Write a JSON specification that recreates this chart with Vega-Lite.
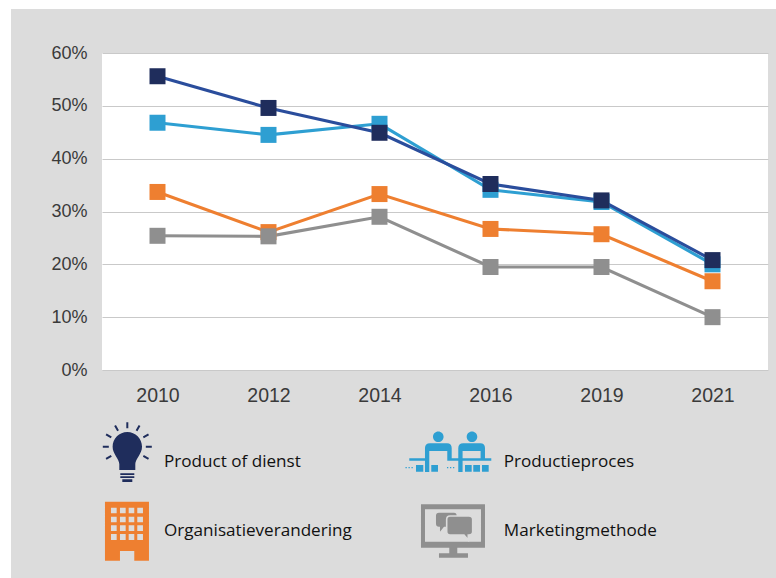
{
"$schema":"https://vega.github.io/schema/vega-lite/v6.json",
"width":666,"height":317,
"autosize":{"type":"none"},
"padding":{"left":102,"top":53,"right":8,"bottom":208},
"background":"#dcdcdc",
"config":{"view":{"fill":"#ffffff","stroke":null}},
"datasets":{
"series":[
{"year":"2010","serie":"Organisatieverandering","pct":33.7},{"year":"2012","serie":"Organisatieverandering","pct":26.1},{"year":"2014","serie":"Organisatieverandering","pct":33.3},{"year":"2016","serie":"Organisatieverandering","pct":26.7},{"year":"2019","serie":"Organisatieverandering","pct":25.7},{"year":"2021","serie":"Organisatieverandering","pct":16.8},
{"year":"2010","serie":"Marketingmethode","pct":25.4},{"year":"2012","serie":"Marketingmethode","pct":25.3},{"year":"2014","serie":"Marketingmethode","pct":29.0},{"year":"2016","serie":"Marketingmethode","pct":19.5},{"year":"2019","serie":"Marketingmethode","pct":19.5},{"year":"2021","serie":"Marketingmethode","pct":10.0},
{"year":"2010","serie":"Productieproces","pct":46.8},{"year":"2012","serie":"Productieproces","pct":44.5},{"year":"2014","serie":"Productieproces","pct":46.6},{"year":"2016","serie":"Productieproces","pct":34.1},{"year":"2019","serie":"Productieproces","pct":31.8},{"year":"2021","serie":"Productieproces","pct":20.0},
{"year":"2010","serie":"Product of dienst","pct":55.6},{"year":"2012","serie":"Product of dienst","pct":49.6},{"year":"2014","serie":"Product of dienst","pct":44.9},{"year":"2016","serie":"Product of dienst","pct":35.2},{"year":"2019","serie":"Product of dienst","pct":32.1},{"year":"2021","serie":"Product of dienst","pct":20.8}
],
"legend":[
{"serie":"Product of dienst","tx":0.559,"ty":-17.35,"ix":0.228,"iy":-15.33},
{"serie":"Productieproces","tx":3.62,"ty":-17.35,"ix":3.135,"iy":-15.52},
{"serie":"Organisatieverandering","tx":0.559,"ty":-30.4,"ix":0.225,"iy":-30.47},
{"serie":"Marketingmethode","tx":3.62,"ty":-30.4,"ix":3.162,"iy":-30.47}
],
"strips":[
{"a":-1,"b":6.1,"c":68.33,"d":70.2},
{"a":-1,"b":-0.82,"c":-40,"d":70.2}
]
},
"layer":[
{"data":{"name":"strips"},
 "mark":{"type":"rect","fill":"#ffffff","stroke":null},
 "encoding":{
  "x":{"field":"a","type":"quantitative","scale":{"domain":[0,6],"nice":false,"zero":false},"axis":null},
  "x2":{"field":"b"},
  "y":{"field":"c","type":"quantitative","scale":{"domain":[0,60],"nice":false},"axis":{"values":[0,10,20,30,40,50,60],"labelExpr":"datum.value + '%'","title":null,"domain":false,"ticks":false,"labelFont":"Liberation Sans","labelFontSize":18,"labelColor":"#3a3a3a","labelPadding":15,"gridColor":"#c9c9c9","gridWidth":1.2,"grid":true}},
  "y2":{"field":"d"}
 }},
{"data":{"name":"series"},
 "mark":{"type":"line","strokeWidth":3.1},
 "encoding":{
  "x":{"field":"year","type":"ordinal","scale":{"type":"point","padding":0.5,"domain":["2010","2012","2014","2016","2019","2021"]},"axis":{"title":null,"domain":false,"ticks":false,"labelAngle":0,"labelFont":"Liberation Sans","labelFontSize":19.5,"labelColor":"#3a3a3a","labelPadding":16}},
  "y":{"field":"pct","type":"quantitative"},
  "detail":{"field":"serie"},
  "color":{"field":"serie","type":"nominal","legend":null,"scale":{"domain":["Marketingmethode","Organisatieverandering","Productieproces","Product of dienst"],"range":["#8f8f8f","#ee7f30","#2e9fd2","#2a4d9c"]}}
 }},
{"data":{"name":"series"},
 "mark":{"type":"point","shape":"square","filled":true,"size":256,"opacity":1},
 "encoding":{
  "x":{"field":"year","type":"ordinal","scale":{"type":"point","padding":0.5,"domain":["2010","2012","2014","2016","2019","2021"]},"axis":null},
  "y":{"field":"pct","type":"quantitative"},
  "fill":{"field":"serie","type":"nominal","legend":null,"scale":{"domain":["Marketingmethode","Organisatieverandering","Productieproces","Product of dienst"],"range":["#8f8f8f","#ee7f30","#2e9fd2","#1f2d5c"]}}
 }},
{"data":{"name":"legend"},
 "mark":{"type":"text","align":"left","baseline":"middle","font":"Open Sans","fontSize":17.1,"fill":"#111111"},
 "encoding":{
  "x":{"field":"tx","type":"quantitative","scale":{"domain":[0,6],"nice":false,"zero":false},"axis":null},
  "y":{"field":"ty","type":"quantitative"},
  "text":{"field":"serie"}
 }},
{"data":{"name":"legend"},
 "mark":{"type":"point","filled":true,"size":4,"opacity":1,"strokeWidth":0},
 "encoding":{
  "x":{"field":"ix","type":"quantitative","scale":{"domain":[0,6],"nice":false,"zero":false},"axis":null},
  "y":{"field":"iy","type":"quantitative"},
  "fill":{"field":"serie","type":"nominal","legend":null,"scale":{"domain":["Marketingmethode","Organisatieverandering","Productieproces","Product of dienst"],"range":["#8f8f8f","#ee7f30","#2e9fd2","#1f2d5c"]}},
  "shape":{"field":"serie","type":"nominal","legend":null,"scale":{"domain":["Product of dienst","Productieproces","Organisatieverandering","Marketingmethode"],"range":[
"M-8 19L-8 13C-8 8 -14.7 3 -14.7 -4.3C-14.7 -12.4 -8.1 -19 0 -19C8.1 -19 14.7 -12.4 14.7 -4.3C14.7 3 8 8 8 13L8 19ZM-7 22.3L7 22.3L7 24L-7 24ZM-7 25.3L7 25.3L7 27L-7 27ZM-5 28.3L5 28.3L5 31L-5 31ZM-1 -22.8L1 -22.8L1 -28.8L-1 -28.8ZM10.12 -19.82L8.38 -20.82L11.38 -26.02L13.12 -25.02ZM16.52 -12.68L15.52 -14.42L20.72 -17.42L21.72 -15.68ZM18.5 -5.3L24.5 -5.3L24.5 -3.3L18.5 -3.3ZM15.52 5.82L16.52 4.08L21.72 7.08L20.72 8.82ZM-10.12 -19.82L-8.38 -20.82L-11.38 -26.02L-13.12 -25.02ZM-16.52 -12.68L-15.52 -14.42L-20.72 -17.42L-21.72 -15.68ZM-18.5 -5.3L-24.5 -5.3L-24.5 -3.3L-18.5 -3.3ZM-15.52 5.82L-16.52 4.08L-21.72 7.08L-20.72 8.82Z",
"M-17 -15.3A5.3 5.3 0 1 1 -6.4 -15.3A5.3 5.3 0 1 1 -17 -15.3ZM16.7 -15.3A5.3 5.3 0 1 1 27.3 -15.3A5.3 5.3 0 1 1 16.7 -15.3ZM-25 20L-25 -4Q-25 -8.7 -20 -8.7L-3 -8.7Q1.7 -8.7 1.7 -4L1.7 6.3L-2.7 6.3L-2.7 -1L-20.7 -1L-20.7 20ZM8.3 20L8.3 -4Q8.3 -8.7 13.3 -8.7L30.3 -8.7Q35 -8.7 35 -4L35 6.3L30.6 6.3L30.6 -1L12.6 -1L12.6 20ZM-40.7 6.3L-20.7 6.3L-20.7 8.7L-40.7 8.7ZM-2.7 6.3L8.3 6.3L8.3 8.7L-2.7 8.7ZM12.6 6.3L41.3 6.3L41.3 8.7L12.6 8.7ZM-34 13L-26.7 13L-26.7 19.7L-34 19.7ZM-18.7 13L-12 13L-12 19.7L-18.7 19.7ZM15 13L21.7 13L21.7 19.7L15 19.7ZM23.3 13L30 13L30 19.7L23.3 19.7ZM32 13L38.7 13L38.7 19.7L32 19.7ZM-44.5 15L-43.2 15L-43.2 16.3L-44.5 16.3ZM-41.5 15L-40.2 15L-40.2 16.3L-41.5 16.3ZM-38.5 15L-37.2 15L-37.2 16.3L-38.5 16.3ZM-3 15L-1.7 15L-1.7 16.3L-3 16.3ZM0 15L1.3 15L1.3 16.3L0 16.3ZM3 15L4.3 15L4.3 16.3L3 16.3Z",
"M-22 -29.3L22 -29.3L22 29.7L7.3 29.7L7.3 20L-7 20L-7 29.7L-22 29.7ZM-16 -23.3L-16 -17.7L-10.3 -17.7L-10.3 -23.3ZM-7 -23.3L-7 -17.7L-1.3 -17.7L-1.3 -23.3ZM1.7 -23.3L1.7 -17.7L7.3 -17.7L7.3 -23.3ZM10.3 -23.3L10.3 -17.7L16 -17.7L16 -23.3ZM-16 -14.3L-16 -8.7L-10.3 -8.7L-10.3 -14.3ZM-7 -14.3L-7 -8.7L-1.3 -8.7L-1.3 -14.3ZM1.7 -14.3L1.7 -8.7L7.3 -8.7L7.3 -14.3ZM10.3 -14.3L10.3 -8.7L16 -8.7L16 -14.3ZM-16 -5.7L-16 0L-10.3 0L-10.3 -5.7ZM-7 -5.7L-7 0L-1.3 0L-1.3 -5.7ZM1.7 -5.7L1.7 0L7.3 0L7.3 -5.7ZM10.3 -5.7L10.3 0L16 0L16 -5.7ZM-16 3L-16 9L-10.3 9L-10.3 3ZM-7 3L-7 9L-1.3 9L-1.3 3ZM1.7 3L1.7 9L7.3 9L7.3 3ZM10.3 3L10.3 9L16 9L16 3Z",
"M-32 -26.7L32 -26.7L32 16.7L4.3 16.7L4.3 22.3L15 22.3L15 26.7L-14 26.7L-14 22.3L-3.7 22.3L-3.7 16.7L-32 16.7ZM-28 -21.7L-28 10.7L28 10.7L28 -21.7ZM-17 -15.3Q-17 -18.3 -14 -18.3L1 -18.3Q3.7 -18.3 3.7 -15.3L3.7 -7.5Q3.7 -4.3 1 -4.3L-9 -4.3L-13 0.7L-13 -4.3L-14 -4.3Q-17 -4.3 -17 -7.5Z"
]}}
 }},
{"data":{"values":[{"serie":"Marketingmethode","ix":3.162,"iy":-30.47}]},
 "mark":{"type":"point","filled":true,"size":4,"opacity":1,"fill":"#8f8f8f","stroke":"#dcdcdc","strokeWidth":1.6,"shape":"M-6.3 -11.5Q-6.3 -15 -3 -15L16 -15Q19.7 -15 19.7 -11.5L19.7 0.5Q19.7 4 16 4L15.3 4L15.3 9L11 4L-3 4Q-6.3 4 -6.3 0.5Z"},
 "encoding":{
  "x":{"field":"ix","type":"quantitative","scale":{"domain":[0,6],"nice":false,"zero":false},"axis":null},
  "y":{"field":"iy","type":"quantitative"}
 }}
],
"resolve":{"scale":{"x":"independent","fill":"independent","color":"independent"}}
}
